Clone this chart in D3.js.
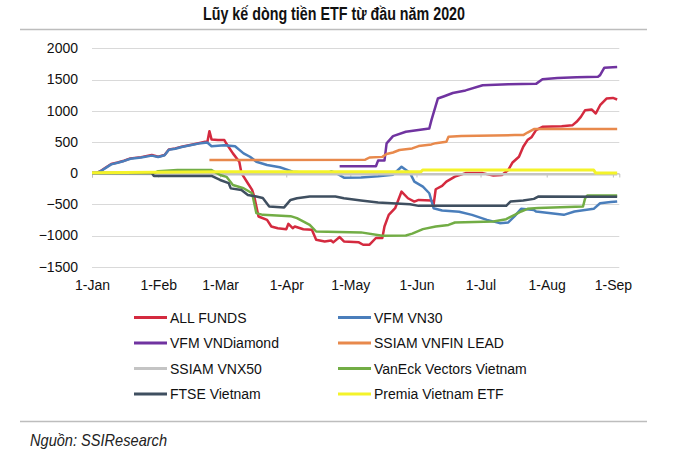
<!DOCTYPE html>
<html>
<head>
<meta charset="utf-8">
<script src="https://cdn.jsdelivr.net/npm/d3@7"></script>
<style>
  html, body { margin: 0; padding: 0; background: #fff; }
  svg { display: block; }
</style>
</head>
<body>
<svg id="chart" width="700" height="450"></svg>
<script>
// ---------- data ----------
const titleText = "Lũy kế dòng tiền ETF từ đầu năm 2020";
const sourceText = "Nguồn: SSIResearch";
const yTicks = [-1500, -1000, -500, 0, 500, 1000, 1500, 2000];
const monthTicks = ["2020-01-01","2020-02-01","2020-03-01","2020-04-01","2020-05-01","2020-06-01","2020-07-01","2020-08-01","2020-09-01"];
const seriesNames = ["ALL FUNDS","VFM VN30","VFM VNDiamond","SSIAM VNFIN LEAD","SSIAM VNX50","VanEck Vectors Vietnam","FTSE Vietnam","Premia Vietnam ETF"];
const seriesColors = ["#d42a3f","#4a7ebb","#7033a0","#e8894c","#c4c4c4","#72ad45","#3f4f60","#f4f32a"];

const allFunds = [["2020-01-01",0],["2020-01-03",0],["2020-01-05",33],["2020-01-08",102],["2020-01-10",145],["2020-01-13",170],["2020-01-16",198],["2020-01-19",236],["2020-01-24",256],["2020-01-29",289],["2020-02-01",262],["2020-02-04",289],["2020-02-06",380],["2020-02-09",396],["2020-02-12",422],["2020-02-16",449],["2020-02-21",486],["2020-02-23",502],["2020-02-24",490],["2020-02-25",672],["2020-02-26",540],["2020-02-29",529],["2020-03-03",529],["2020-03-04",470],["2020-03-07",316],["2020-03-10",182],["2020-03-11",0],["2020-03-14",-163],["2020-03-16",-270],["2020-03-17",-376],["2020-03-19",-696],["2020-03-23",-749],["2020-03-25",-856],["2020-03-28",-883],["2020-04-01",-900],["2020-04-02",-813],["2020-04-04",-883],["2020-04-05",-856],["2020-04-09",-900],["2020-04-13",-909],["2020-04-15",-1068],["2020-04-19",-1095],["2020-04-22",-1080],["2020-04-23",-1110],["2020-04-26",-1025],["2020-04-28",-1095],["2020-05-05",-1110],["2020-05-07",-1148],["2020-05-10",-1148],["2020-05-13",-1040],["2020-05-16",-1040],["2020-05-17",-856],["2020-05-19",-669],["2020-05-22",-563],["2020-05-25",-296],["2020-05-28",-403],["2020-05-31",-456],["2020-06-02",-430],["2020-06-08",-440],["2020-06-09",-509],["2020-06-10",-259],["2020-06-13",-206],["2020-06-15",-137],["2020-06-19",-57],["2020-06-24",0],["2020-07-02",0],["2020-07-07",-40],["2020-07-11",-30],["2020-07-14",50],["2020-07-16",170],["2020-07-19",262],["2020-07-21",422],["2020-07-23",529],["2020-07-25",580],["2020-07-27",689],["2020-07-30",742],["2020-08-08",750],["2020-08-13",765],["2020-08-15",822],["2020-08-17",901],["2020-08-19",1008],["2020-08-22",1020],["2020-08-24",955],["2020-08-26",1088],["2020-08-29",1195],["2020-09-01",1205],["2020-09-03",1179]];

const vn30 = [["2020-01-01",0],["2020-01-03",0],["2020-01-05",30],["2020-01-08",95],["2020-01-10",140],["2020-01-13",165],["2020-01-16",195],["2020-01-19",230],["2020-01-24",250],["2020-01-29",280],["2020-02-01",258],["2020-02-04",285],["2020-02-06",375],["2020-02-09",390],["2020-02-12",418],["2020-02-16",445],["2020-02-21",480],["2020-02-24",490],["2020-02-26",430],["2020-03-03",445],["2020-03-08",430],["2020-03-12",316],["2020-03-15",262],["2020-03-18",182],["2020-03-23",129],["2020-03-29",93],["2020-04-01",60],["2020-04-04",22],["2020-04-12",0],["2020-04-16",-10],["2020-04-20",-10],["2020-04-22",30],["2020-04-25",-14],["2020-04-28",-73],["2020-05-06",-70],["2020-05-14",-50],["2020-05-21",-25],["2020-05-25",102],["2020-05-29",0],["2020-05-31",-137],["2020-06-04",-217],["2020-06-07",-323],["2020-06-09",-563],["2020-06-13",-600],["2020-06-21",-620],["2020-06-27",-670],["2020-07-04",-749],["2020-07-10",-802],["2020-07-14",-790],["2020-07-17",-690],["2020-07-20",-573],["2020-07-26",-590],["2020-07-27",-616],["2020-08-03",-642],["2020-08-09",-669],["2020-08-14",-616],["2020-08-23",-573],["2020-08-26",-483],["2020-08-31",-465],["2020-09-03",-455]];

const vnDiamond = [["2020-04-26",110],["2020-05-13",110],["2020-05-14",200],["2020-05-17",200],["2020-05-18",476],["2020-05-21",593],["2020-05-27",662],["2020-06-07",715],["2020-06-08",848],["2020-06-11",1195],["2020-06-14",1232],["2020-06-18",1284],["2020-06-24",1325],["2020-07-02",1407],["2020-07-14",1425],["2020-07-27",1430],["2020-07-30",1503],["2020-08-06",1524],["2020-08-15",1535],["2020-08-25",1545],["2020-08-26",1570],["2020-08-28",1690],["2020-09-03",1700]];

const vnfinLead = [["2020-02-25",210],["2020-05-08",215],["2020-05-10",250],["2020-05-16",260],["2020-05-18",305],["2020-05-21",330],["2020-05-24",370],["2020-05-30",395],["2020-06-02",433],["2020-06-08",460],["2020-06-10",480],["2020-06-15",502],["2020-06-16",582],["2020-06-22",593],["2020-07-17",609],["2020-07-21",609],["2020-07-23",650],["2020-07-26",705],["2020-09-03",705]];

const vnx50 = [["2020-01-01",-10],["2020-03-01",-20],["2020-09-03",-20]];

const vanEck = [["2020-01-01",0],["2020-01-30",0],["2020-02-01",30],["2020-02-10",50],["2020-02-26",50],["2020-03-01",-30],["2020-03-04",-60],["2020-03-07",-190],["2020-03-12",-243],["2020-03-16",-323],["2020-03-18",-642],["2020-03-21",-669],["2020-04-03",-690],["2020-04-06",-722],["2020-04-12",-829],["2020-04-15",-936],["2020-05-06",-950],["2020-05-16",-1005],["2020-05-27",-1000],["2020-05-30",-970],["2020-06-04",-898],["2020-06-10",-856],["2020-06-16",-830],["2020-06-19",-792],["2020-07-07",-775],["2020-07-13",-738],["2020-07-17",-669],["2020-07-20",-615],["2020-07-23",-573],["2020-07-28",-560],["2020-08-18",-536],["2020-08-19",-403],["2020-08-20",-360],["2020-09-03",-360]];

const ftse = [["2020-01-01",0],["2020-01-29",0],["2020-01-30",-45],["2020-02-26",-45],["2020-03-01",-110],["2020-03-05",-160],["2020-03-06",-245],["2020-03-11",-270],["2020-03-14",-350],["2020-03-18",-376],["2020-03-21",-400],["2020-03-24",-536],["2020-03-31",-550],["2020-04-03",-430],["2020-04-06",-403],["2020-04-12",-376],["2020-04-24",-376],["2020-04-28",-403],["2020-05-06",-440],["2020-05-14",-472],["2020-05-29",-500],["2020-06-02",-525],["2020-07-13",-525],["2020-07-15",-456],["2020-07-21",-440],["2020-07-26",-413],["2020-07-28",-376],["2020-09-03",-380]];

const premia = [["2020-01-01",5],["2020-03-01",20],["2020-06-03",20],["2020-06-04",50],["2020-08-23",50],["2020-08-24",0],["2020-09-03",0]];

const seriesData = [allFunds, vn30, vnDiamond, vnfinLead, vnx50, vanEck, ftse, premia];

// ---------- drawing ----------
const parse = d3.timeParse("%Y-%m-%d");
const svg = d3.select("#chart");
svg.append("rect").attr("width", 700).attr("height", 450).attr("fill", "#fff");

const x = d3.scaleTime()
  .domain([parse("2020-01-01"), parse("2020-09-04")])
  .range([92, 619.3]);
const y = d3.scaleLinear().domain([-1500, 2000]).range([266.7, 48.3]);

const FONT = "'Liberation Sans', Arial, sans-serif";

// title
svg.append("text").attr("x", 334).attr("y", 19.5)
  .attr("text-anchor", "middle")
  .attr("font-family", FONT).attr("font-weight", "bold").attr("font-size", 18)
  .attr("textLength", 262).attr("lengthAdjust", "spacingAndGlyphs")
  .attr("fill", "#111").text(titleText);

// rules
svg.append("line").attr("x1", 20).attr("x2", 647).attr("y1", 29.5).attr("y2", 29.5)
  .attr("stroke", "#bdbdbd").attr("stroke-width", 1.5);
svg.append("line").attr("x1", 20).attr("x2", 647).attr("y1", 421.5).attr("y2", 421.5)
  .attr("stroke", "#bdbdbd").attr("stroke-width", 1.5);

// gridlines
svg.append("g").selectAll("line").data(yTicks).join("line")
  .attr("x1", x.range()[0]).attr("x2", x.range()[1])
  .attr("y1", d => Math.round(y(d)) + 0.5).attr("y2", d => Math.round(y(d)) + 0.5)
  .attr("stroke", "#d9d9d9").attr("stroke-width", 1);

// y axis labels
const yAxis = svg.append("g").attr("transform", "translate(92,0)")
  .call(d3.axisLeft(y).tickValues(yTicks).tickSize(0).tickPadding(14).tickFormat(d3.format("d")));
yAxis.select(".domain").remove();
yAxis.selectAll("text").attr("font-family", FONT).attr("font-size", 14).attr("fill", "#111");

// zero axis line with tick marks
const months = monthTicks.map(parse);
const zAxis = svg.append("g").attr("transform", `translate(0,${Math.round(y(0)) + 0.5})`)
  .call(d3.axisBottom(x).tickValues(months).tickSize(4).tickFormat(""));
zAxis.select(".domain").attr("stroke", "#bfbfbf");
zAxis.selectAll(".tick line").attr("stroke", "#bfbfbf");

// x labels
const xAxis = svg.append("g").attr("transform", "translate(0,266.7)")
  .call(d3.axisBottom(x).tickValues(months).tickSize(0).tickPadding(13).tickFormat(d3.timeFormat("%-d-%b")));
xAxis.select(".domain").remove();
xAxis.selectAll("text").attr("font-family", FONT).attr("font-size", 14).attr("fill", "#111");

// lines
const line = d3.line().x(d => x(parse(d[0]))).y(d => y(d[1]));
const lineG = svg.append("g");
seriesData.forEach((data, i) => {
  lineG.append("path").datum(data)
    .attr("d", line)
    .attr("fill", "none")
    .attr("stroke", seriesColors[i])
    .attr("stroke-width", i === 7 ? 3 : 2.5)
    .attr("stroke-linejoin", "round");
});

// legend
const legend = svg.append("g");
seriesNames.forEach((name, i) => {
  const col = i % 2, row = Math.floor(i / 2);
  const lx = col === 0 ? 134 : 338;
  const ly = 317.5 + row * 25.5;
  legend.append("line").attr("x1", lx).attr("x2", lx + 33).attr("y1", ly).attr("y2", ly)
    .attr("stroke", seriesColors[i]).attr("stroke-width", 3);
  legend.append("text").attr("x", lx + 36).attr("y", ly + 5)
    .attr("font-family", FONT).attr("font-size", 14).attr("fill", "#111").text(name);
});

// source
svg.append("text").attr("x", 30).attr("y", 445.5)
  .attr("font-family", FONT).attr("font-style", "italic").attr("font-size", 17)
  .attr("textLength", 137).attr("lengthAdjust", "spacingAndGlyphs")
  .attr("fill", "#222").text(sourceText);
</script>
</body>
</html>
